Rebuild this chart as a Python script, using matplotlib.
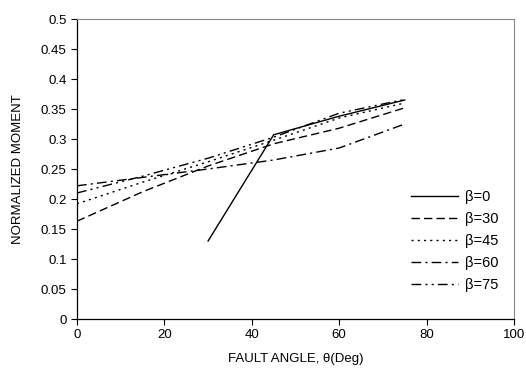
import numpy as np
import matplotlib.pyplot as plt

plt.rcParams['font.family'] = ['Liberation Sans', 'DejaVu Sans']

# fault angle (deg)
theta = [0, 15, 30, 45, 60, 75]
theta_b0 = [30, 45, 60, 75]

# normalized moment for each beta
m_b0 = [0.13, 0.307, 0.338, 0.365]
m_b30 = [0.163, 0.212, 0.255, 0.292, 0.318, 0.352]
m_b45 = [0.192, 0.228, 0.262, 0.298, 0.335, 0.360]
m_b60 = [0.222, 0.236, 0.250, 0.265, 0.285, 0.325]
m_b75 = [0.210, 0.238, 0.268, 0.303, 0.343, 0.366]

labels = ['β=0', 'β=30', 'β=45', 'β=60', 'β=75']

fig = plt.figure(figsize=(5.26, 3.81), dpi=100)
ax = fig.add_axes([77/526, 1 - 319/381, 437/526, 300/381])

lw = 1.0
ax.plot(theta_b0, m_b0, color='black', lw=lw, ls='-', label=labels[0])
ax.plot(theta, m_b30, color='black', lw=lw, ls=(0, (6, 3)), label=labels[1])
ax.plot(theta, m_b45, color='black', lw=lw, ls=(0, (1.5, 3)), label=labels[2])
ax.plot(theta, m_b60, color='black', lw=lw, ls=(0, (7, 3, 1.5, 3)), label=labels[3])
ax.plot(theta, m_b75, color='black', lw=lw, ls=(0, (7, 3, 1.5, 3, 1.5, 3)), label=labels[4])

ax.set_xlim(0, 100)
ax.set_ylim(0, 0.5)
ax.set_xticks(np.arange(0, 101, 20))
ax.set_yticks(np.arange(0, 0.501, 0.05))
ax.set_yticklabels(['0', '0.05', '0.1', '0.15', '0.2', '0.25', '0.3', '0.35', '0.4', '0.45', '0.5'])
ax.tick_params(direction='out', length=4, width=0.8, labelsize=9.5, colors='black')

for s in ['top', 'right']:
    ax.spines[s].set_color('#888888')
    ax.spines[s].set_linewidth(0.8)
for s in ['left', 'bottom']:
    ax.spines[s].set_color('black')
    ax.spines[s].set_linewidth(0.9)

ax.set_xlabel('FAULT ANGLE, θ(Deg)', fontsize=9.5, labelpad=8)
ax.set_ylabel('NORMALIZED MOMENT', fontsize=9.5, labelpad=12)

ax.legend(loc='upper right', bbox_to_anchor=(0.995, 0.475), frameon=False,
          fontsize=10.5, handlelength=3.2, labelspacing=0.55, handletextpad=0.5)

fig.savefig('out.png', dpi=100)
